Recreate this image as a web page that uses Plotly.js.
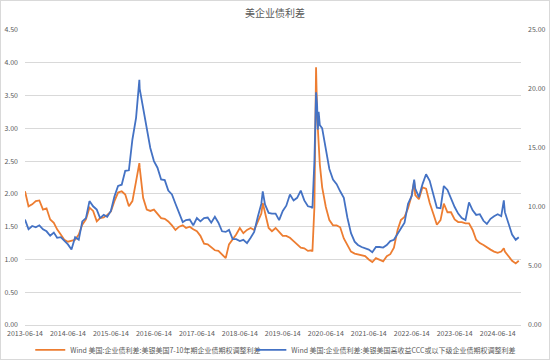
<!DOCTYPE html>
<html>
<head>
<meta charset="utf-8">
<script src="https://cdn.plot.ly/plotly-3.0.1.min.js"></script>
<style>
html,body{margin:0;padding:0;background:#fff;}
#wrap{position:relative;width:550px;height:360px;}
#chart{width:550px;height:360px;}
#frame{position:absolute;left:0;top:0;width:550px;height:360px;box-sizing:border-box;border:1px solid #d9d9d9;pointer-events:none;}
</style>
</head>
<body>
<div id="wrap"><div id="chart"></div><div id="frame"></div></div>
<script>
const chartTitle = '美企业债利差';
const seriesNames = ['Wind 美国:企业债利差:美银美国7-10年期企业债期权调整利差',
                     'Wind 美国:企业债利差:美银美国高收益CCC或以下级企业债期权调整利差'];
const tickDates = ['2013-06-14','2014-06-14','2015-06-14','2016-06-14','2017-06-14','2018-06-14',
                   '2019-06-14','2020-06-14','2021-06-14','2022-06-14','2023-06-14','2024-06-14'];

const dates = [
'2013-06-14','2013-07-14','2013-08-14','2013-09-14','2013-10-14','2013-11-14','2013-12-14',
'2014-01-14','2014-02-14','2014-03-14','2014-04-14','2014-05-14','2014-06-14','2014-07-14','2014-08-14','2014-09-14','2014-10-14','2014-11-14','2014-12-14',
'2015-01-14','2015-02-14','2015-03-14','2015-04-14','2015-05-14','2015-06-14','2015-07-14','2015-08-14','2015-09-14','2015-10-14','2015-11-14','2015-12-14',
'2016-01-14','2016-02-11','2016-02-14','2016-03-14','2016-04-14','2016-05-14','2016-06-14','2016-07-14','2016-08-14','2016-09-14','2016-10-14','2016-11-14','2016-12-14',
'2017-01-14','2017-02-14','2017-03-14','2017-04-14','2017-05-14','2017-06-14','2017-07-14','2017-08-14','2017-09-14','2017-10-14','2017-11-14','2017-12-14',
'2018-01-14','2018-02-14','2018-03-14','2018-04-14','2018-05-14','2018-06-14','2018-07-14','2018-08-14','2018-09-14','2018-10-14','2018-11-14','2018-12-14','2018-12-26',
'2019-01-14','2019-02-14','2019-03-14','2019-04-14','2019-05-14','2019-06-14','2019-07-14','2019-08-14','2019-09-14','2019-10-14','2019-11-14','2019-12-14',
'2020-01-14','2020-02-14','2020-02-21','2020-03-09','2020-03-16','2020-03-23','2020-04-01','2020-04-07','2020-04-14','2020-04-24','2020-05-14','2020-06-14','2020-07-14','2020-08-14','2020-09-14','2020-10-14','2020-11-14','2020-12-14',
'2021-01-14','2021-02-14','2021-03-14','2021-04-14','2021-05-14','2021-06-14','2021-07-14','2021-08-14','2021-09-14','2021-10-14','2021-11-14','2021-12-14',
'2022-01-14','2022-02-14','2022-03-14','2022-04-14','2022-05-14','2022-06-14','2022-07-05','2022-07-14','2022-08-14','2022-09-14','2022-10-14','2022-11-14','2022-12-14',
'2023-01-14','2023-02-14','2023-03-14','2023-04-14','2023-05-14','2023-06-14','2023-07-14','2023-08-14','2023-09-14','2023-10-14','2023-11-14','2023-12-14',
'2024-01-14','2024-02-14','2024-03-14','2024-04-14','2024-05-14','2024-06-14','2024-07-14','2024-08-05','2024-08-14','2024-09-14','2024-10-14','2024-11-14','2024-12-10'
];

// 7-10y IG OAS (%), left axis
const igOAS = [
2.04,1.81,1.84,1.89,1.90,1.76,1.78,
1.61,1.56,1.46,1.38,1.30,1.27,1.28,1.30,1.38,1.53,1.61,1.79,
1.74,1.58,1.63,1.64,1.68,1.73,1.89,2.02,2.04,1.99,1.81,1.89,
2.19,2.47,2.40,1.94,1.76,1.74,1.76,1.70,1.63,1.62,1.58,1.52,1.45,
1.50,1.52,1.48,1.50,1.46,1.43,1.36,1.24,1.23,1.19,1.14,1.13,
1.07,1.02,1.23,1.30,1.38,1.48,1.40,1.45,1.48,1.45,1.58,1.70,1.86,
1.71,1.48,1.43,1.48,1.42,1.36,1.36,1.33,1.28,1.23,1.18,1.17,
1.13,1.14,1.12,1.80,3.00,3.93,3.20,2.95,2.60,2.45,2.10,1.80,1.60,1.52,1.52,1.49,1.32,1.21,
1.12,1.09,1.08,1.07,1.05,1.00,0.96,1.02,0.99,0.97,1.05,1.08,
1.18,1.45,1.60,1.65,1.78,1.98,2.19,1.98,1.92,2.10,2.08,1.86,1.70,
1.53,1.60,1.85,1.72,1.72,1.61,1.57,1.57,1.55,1.55,1.45,1.30,
1.25,1.22,1.18,1.15,1.12,1.10,1.12,1.17,1.12,1.05,0.98,0.94,0.98
];

// CCC & lower HY OAS (%), right axis
const cccOAS = [
8.94,8.11,8.39,8.28,8.45,8.11,7.94,
7.56,7.83,7.39,7.44,7.17,6.83,6.39,7.44,7.22,8.78,9.06,10.50,
10.06,9.78,9.06,9.33,9.17,9.67,10.89,11.78,11.89,13.06,13.11,15.72,
17.56,20.78,20.00,18.39,16.39,15.00,13.89,13.33,12.33,12.28,11.39,11.06,10.28,
9.56,8.72,8.89,8.94,8.45,9.06,8.78,9.06,9.11,8.67,9.17,8.67,
7.94,7.89,8.06,7.28,7.28,7.11,7.22,6.94,7.39,7.89,9.17,10.28,11.33,
10.22,9.50,9.44,9.44,8.89,9.67,10.11,11.06,10.56,10.78,11.39,10.56,
10.06,10.00,9.89,13.89,17.78,19.72,18.61,16.56,18.06,16.94,16.67,14.72,13.22,12.33,11.94,11.33,10.78,9.11,
7.78,7.06,6.78,6.61,6.50,6.39,6.17,6.61,6.61,6.56,6.78,7.11,
7.22,7.67,8.17,8.67,10.28,10.94,12.33,11.56,10.83,11.94,12.78,12.22,11.11,
9.94,9.89,11.78,11.44,10.72,10.00,9.44,9.06,8.89,10.39,9.72,9.33,
9.39,8.83,8.56,9.00,9.22,9.39,9.22,10.56,9.56,8.61,7.67,7.22,7.44
];

const FONT = '"Noto Sans CJK SC","Noto Sans",sans-serif';
const GRAY = '#595959';

const traces = [
  {x: dates, y: igOAS, name: seriesNames[0], type: 'scatter', mode: 'lines',
   line: {color: '#ED7D31', width: 1.8}, yaxis: 'y', legend: 'legend'},
  {x: dates, y: cccOAS, name: seriesNames[1], type: 'scatter', mode: 'lines',
   line: {color: '#4472C4', width: 1.8}, yaxis: 'y2', legend: 'legend2'}
];

const legendBase = {orientation: 'h', xref: 'container', yref: 'container',
  xanchor: 'left', y: 0.028, yanchor: 'middle',
  font: {family: FONT, size: 7, color: GRAY}, bgcolor: 'rgba(0,0,0,0)', borderwidth: 0};

const layout = {
  width: 550, height: 360,
  margin: {l: 25, r: 29, t: 30, b: 35, pad: 0},
  paper_bgcolor: '#ffffff', plot_bgcolor: '#ffffff',
  font: {family: FONT, color: GRAY, size: 7},
  title: {text: chartTitle, x: 0.5, xanchor: 'center', y: 0.962, yanchor: 'middle',
          font: {family: FONT, size: 10, color: GRAY}},
  showlegend: true,
  legend: Object.assign({}, legendBase, {x: 0.055}),
  legend2: Object.assign({}, legendBase, {x: 0.457}),
  xaxis: {type: 'date', range: ['2013-06-14', '2024-12-29'],
          tickmode: 'array', tickvals: tickDates, ticktext: tickDates,
          showgrid: false, zeroline: false, showline: false, ticks: '',
          ticklabelstandoff: 3,
          tickfont: {family: FONT, size: 7, color: GRAY}, tickangle: 0},
  yaxis: {range: [0, 4.5], dtick: 0.5, tick0: 0, tickformat: '.2f',
          showgrid: true, gridcolor: '#d9d9d9', gridwidth: 1,
          zeroline: true, zerolinecolor: '#d9d9d9', zerolinewidth: 1,
          showline: false, ticks: '', ticklabelstandoff: 6,
          tickfont: {family: FONT, size: 7, color: GRAY}},
  yaxis2: {range: [0, 25], dtick: 5, tick0: 0, tickformat: '.2f',
           overlaying: 'y', side: 'right', showgrid: false, zeroline: false,
           showline: false, ticks: '', ticklabelstandoff: 6,
           tickfont: {family: FONT, size: 7, color: GRAY}}
};

Plotly.newPlot('chart', traces, layout, {staticPlot: true, displayModeBar: false});
</script>
</body>
</html>
